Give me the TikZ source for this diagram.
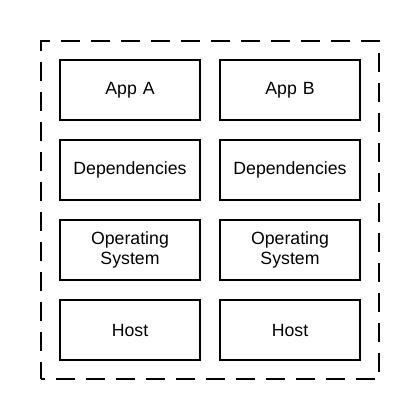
\documentclass[tikz,border=0pt]{standalone}
\usepackage{fontspec}
\setmainfont{Liberation Sans}
\usepackage{tikz}
\usetikzlibrary{fit,positioning}
\tikzset{%
  stackbox/.style={%
    draw=black,
    fill=white,
    line width=2pt,
    minimum width=140pt,
    minimum height=60pt,
    outer sep=0pt,
    inner sep=0pt,
    text width=130pt,
    align=center,
    font=\fontsize{17.7}{20.5}\selectfont
  },
  stackframe/.style={%
    draw=black,
    line width=2pt,
    dash pattern=on 19pt off 11pt,
    dash phase=15pt,
    inner sep=19pt
  }
}
\begin{document}
\begin{tikzpicture}[x=1pt,y=1pt,node distance=20pt]
    \useasboundingbox (0,0) rectangle (420,420);
    % left column
    \node[stackbox] (appA) at (130,330) {App A};
    \node[stackbox,below=of appA] (depsA) {Dependencies};
    \node[stackbox,below=of depsA] (osA) {Operating\\System};
    \node[stackbox,below=of osA] (hostA) {Host};
    % right column
    \node[stackbox,right=of appA] (appB) {App B};
    \node[stackbox,below=of appB] (depsB) {Dependencies};
    \node[stackbox,below=of depsB] (osB) {Operating\\System};
    \node[stackbox,below=of osB] (hostB) {Host};

    \node[stackframe,fit=(appA) (hostB)] (frame) {};
  \end{tikzpicture}
\end{document}
